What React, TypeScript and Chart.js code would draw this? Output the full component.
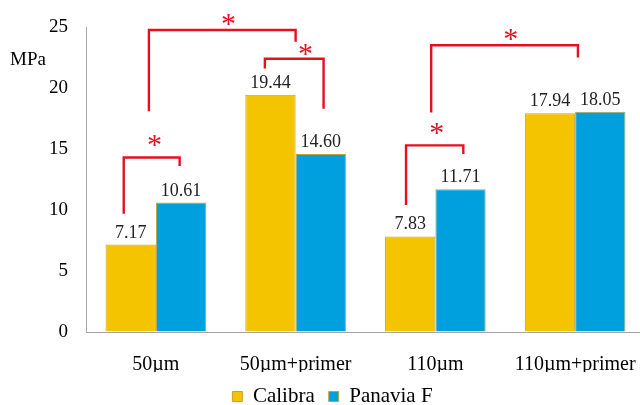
import React, { useEffect, useRef } from "react";
import { Chart, registerables } from "chart.js";

Chart.register(...registerables);

const categories = ["50µm", "50µm+primer", "110µm", "110µm+primer"];
const calibra = [7.17, 19.44, 7.83, 17.94];
const panavia = [10.61, 14.6, 11.71, 18.05];
const yTicks = [0, 5, 10, 15, 20, 25];
const seriesNames = ["Calibra", "Panavia F"];

// significance brackets: x in category units, y in MPa
const bracketFrom = [-0.23, -0.05, 0.78, 1.79, 1.97];
const bracketTo = [0.17, 1.0, 1.2, 2.2, 3.02];
const bracketTop = [14.3, 24.75, 22.4, 15.3, 23.5];
const bracketLeftEnd = [9.7, 18.1, 21.6, 10.4, 18.0];
const bracketRightEnd = [13.6, 23.8, 18.3, 14.6, 22.5];
const starX = [-0.01, 0.52, 1.07, 2.01, 2.54];
const starY = [15.7, 25.65, 23.2, 16.7, 24.45];

const SERIF = "'Liberation Serif', 'Times New Roman', serif";
const YELLOW = "#F4C400";
const BLUE = "#009FDD";
const RED = "#E5101F";

const annotationPlugin = {
  id: "annotations",
  afterLayout(chart: any) {
    const lg = chart.legend;
    if (lg) {
      lg.left += 10;
      lg.right += 10;
    }
  },
  afterDatasetsDraw(chart: any) {
    const ctx = chart.ctx;
    const x = chart.scales.x;
    const y = chart.scales.y;
    ctx.save();
    // value labels
    ctx.fillStyle = "#222";
    ctx.font = `18px ${SERIF}`;
    ctx.textAlign = "center";
    ctx.textBaseline = "alphabetic";
    chart.data.datasets.forEach((ds: any, di: number) => {
      const meta = chart.getDatasetMeta(di);
      meta.data.forEach((bar: any, i: number) => {
        ctx.fillText(Number(ds.data[i]).toFixed(2), bar.x, bar.y - 7);
      });
    });
    // brackets
    ctx.strokeStyle = RED;
    ctx.lineWidth = 2.4;
    ctx.lineJoin = "miter";
    for (let i = 0; i < bracketFrom.length; i++) {
      const x1 = x.getPixelForValue(bracketFrom[i]);
      const x2 = x.getPixelForValue(bracketTo[i]);
      const yt = y.getPixelForValue(bracketTop[i]);
      const yl = y.getPixelForValue(bracketLeftEnd[i]);
      const yr = y.getPixelForValue(bracketRightEnd[i]);
      ctx.beginPath();
      ctx.moveTo(x1, yl);
      ctx.lineTo(x1, yt);
      ctx.lineTo(x2, yt);
      ctx.lineTo(x2, yr);
      ctx.stroke();
      ctx.fillStyle = RED;
      ctx.font = `30px ${SERIF}`;
      ctx.textAlign = "center";
      ctx.textBaseline = "alphabetic";
      ctx.fillText("*", x.getPixelForValue(starX[i]), y.getPixelForValue(starY[i]) + 14);
    }
    // unit label
    ctx.fillStyle = "#000";
    ctx.font = `19px ${SERIF}`;
    ctx.textAlign = "left";
    ctx.fillText("MPa", 10, 65);
    ctx.restore();
  },
};

export default function App() {
  const ref = useRef<HTMLCanvasElement>(null);
  useEffect(() => {
    const chart = new Chart(ref.current!, {
      type: "bar",
      data: {
        labels: categories,
        datasets: [
          {
            label: seriesNames[0],
            data: calibra,
            backgroundColor: YELLOW,
            borderColor: "#C9A030",
            borderWidth: 1,
          },
          {
            label: seriesNames[1],
            data: panavia,
            backgroundColor: BLUE,
            borderColor: "#C9A030",
            borderWidth: 1,
          },
        ],
      },
      options: {
        responsive: false,
        animation: false,
        layout: { padding: { top: 27, right: 0, left: 0, bottom: -12 } },
        datasets: { bar: { categoryPercentage: 0.72, barPercentage: 1 } },
        plugins: {
          legend: {
            position: "bottom",
            labels: {
              boxWidth: 10,
              boxHeight: 10,
              padding: 14,
              color: "#000",
              font: { family: SERIF, size: 21 },
            },
          },
          tooltip: { enabled: false },
        },
        scales: {
          x: {
            grid: { display: true, drawOnChartArea: false, drawTicks: false },
            border: { display: true, color: "#A6A6A6", width: 1 },
            ticks: { color: "#000", padding: 21, font: { family: SERIF, size: 20 } },
            afterFit: (s: any) => {
              s.height = 40;
              s.paddingRight = 0;
              s.paddingLeft = 0;
            },
          },
          y: {
            min: 0,
            max: 25,
            afterBuildTicks: (s: any) => {
              s.ticks = yTicks.map((v) => ({ value: v }));
            },
            grid: { display: true, drawOnChartArea: false, drawTicks: false },
            border: { display: true, color: "#A6A6A6", width: 1 },
            ticks: { color: "#000", padding: 18, font: { family: SERIF, size: 19 } },
            afterFit: (s: any) => {
              s.width = 86;
              s.paddingTop = 0;
              s.paddingBottom = 0;
            },
          },
        },
      },
      plugins: [annotationPlugin],
    });
    return () => chart.destroy();
  }, []);
  return (
    <div style={{ position: "fixed", left: 0, top: 0, width: 640, height: 405, background: "#fff", overflow: "hidden" }}>
      <canvas ref={ref} width={645} height={405} />
    </div>
  );
}
